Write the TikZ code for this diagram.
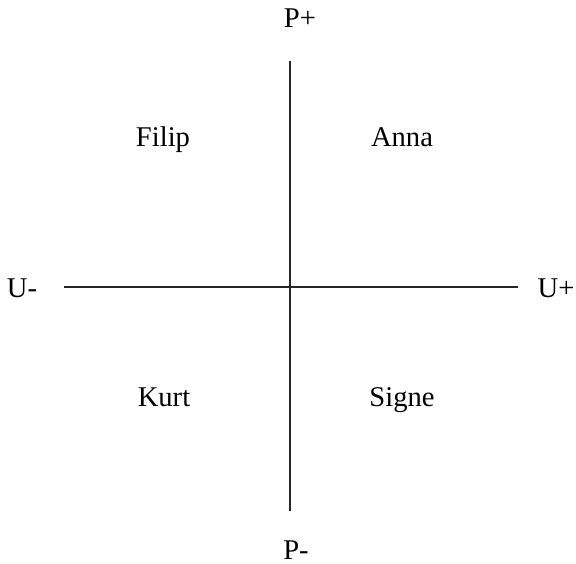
\documentclass[tikz,border=0pt]{standalone}
\usepackage{fontspec}
\setmainfont{Liberation Serif}
\usepackage{tikz}
\usetikzlibrary{positioning}

\begin{document}
\begin{tikzpicture}[x=0.5pt, y=-0.5pt, every node/.style={anchor=base, inner sep=0pt, font=\fontsize{14.3}{17}\selectfont}, axis/.style={line width=1pt, draw=black!85}]
\useasboundingbox (0,0) rectangle (576,563);
\coordinate (ptop) at (290,61);
\coordinate (pbot) at (290,511);
\coordinate (uleft) at (64,287);
\coordinate (uright) at (518,287);

\node (pplus) at (300,27) {P+};
\node (pminus) at (296,559) {P-};
\node (uminus) at (22,297) {U-};
\node (uplus) at (556,297) {U+};

\node (filip) at (163,146) {Filip};
\node (anna) at (402,146) {Anna};
\node (kurt) at (164,406) {Kurt};
\node (signe) at (402,406) {Signe};

\draw[axis] (ptop) -- (pbot);
\draw[axis] (uleft) -- (uright);
\end{tikzpicture}
\end{document}
